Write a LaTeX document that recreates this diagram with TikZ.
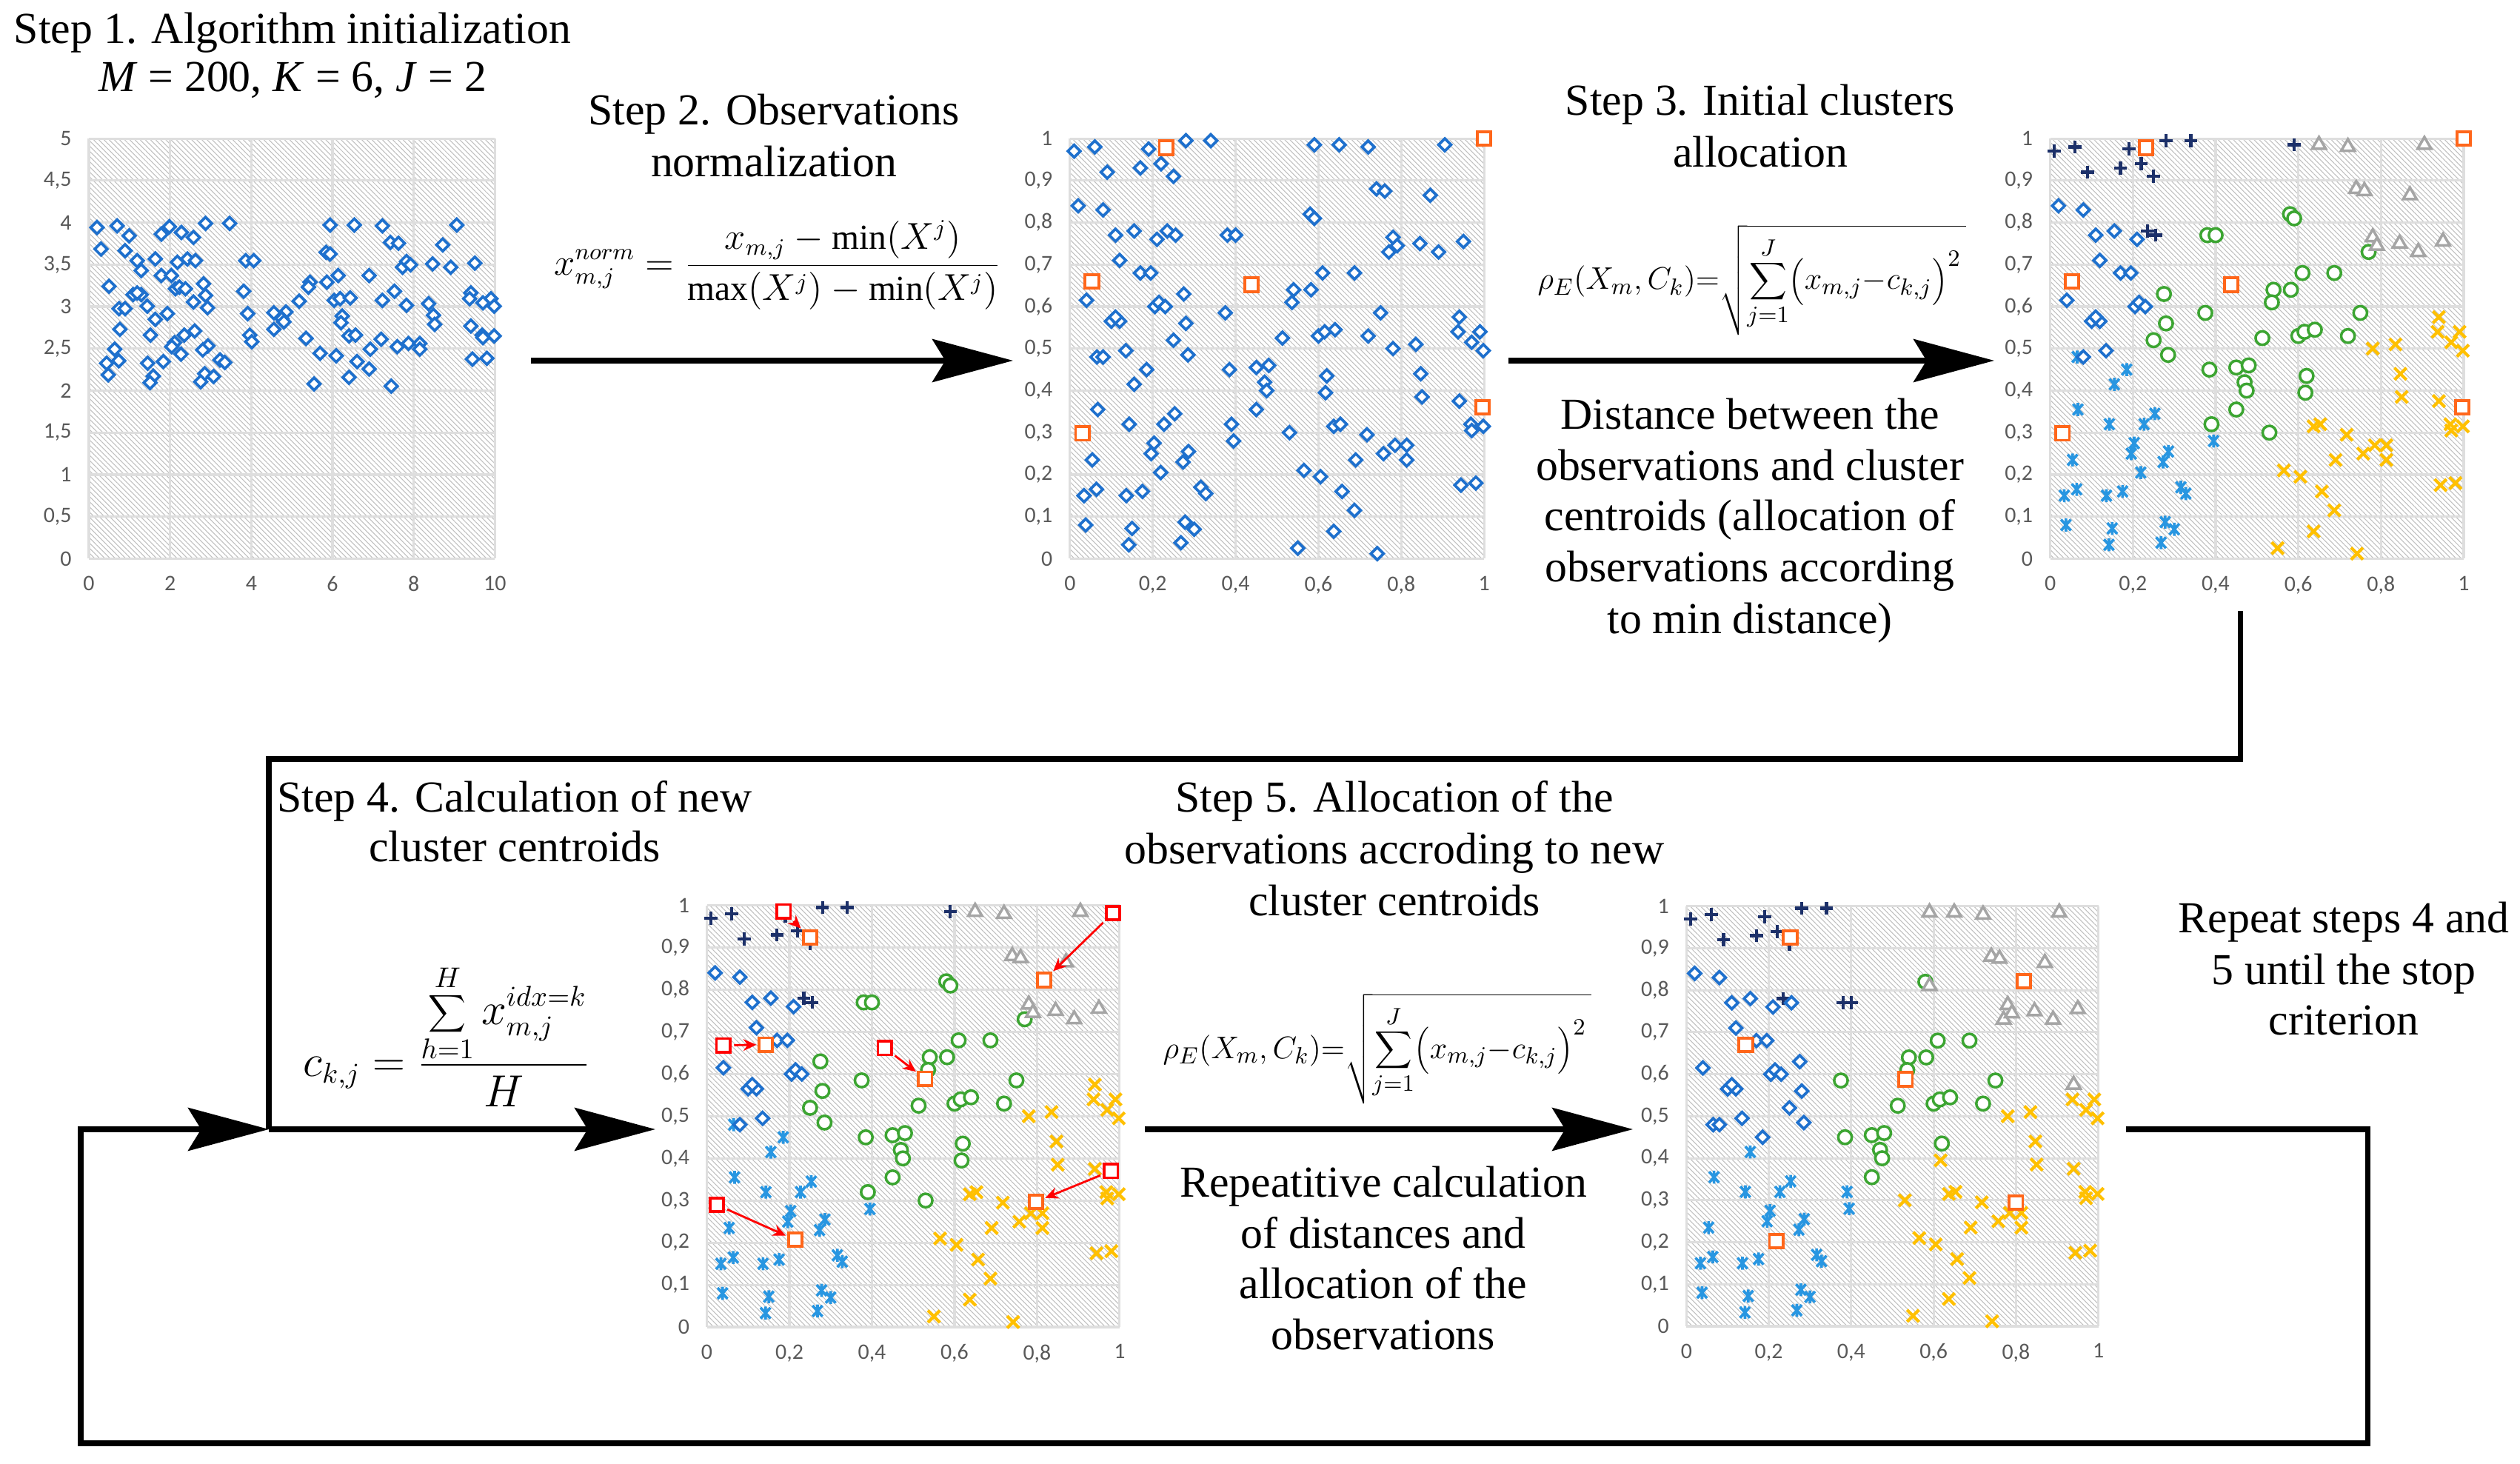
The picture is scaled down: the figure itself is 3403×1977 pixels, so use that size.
\documentclass[tikz,border=0pt]{standalone}
\usepackage{fontspec}
\setmainfont{Liberation Serif}
\newfontfamily\tickfont{Carlito}
\usetikzlibrary{arrows.meta,patterns.meta}
\definecolor{cdia}{RGB}{30,112,205}
\definecolor{corg}{RGB}{255,102,26}
\definecolor{cnavy}{RGB}{28,48,105}
\definecolor{cgray}{RGB}{165,165,165}
\definecolor{cgreen}{RGB}{60,165,50}
\definecolor{cstar}{RGB}{40,150,225}
\definecolor{cyel}{RGB}{255,192,0}
\definecolor{tickgray}{RGB}{89,89,89}
\newcommand\ptlist{%
0.01/0.97/1/1,0.06/0.98/1/1,0.09/0.92/1/1,0.17/0.93/1/1,0.19/0.975/1/1,0.22/0.94/1/1,0.25/0.91/1/1,0.28/0.995/1/1,0.34/0.995/1/1,0.59/0.985/1/2,%
0.65/0.985/2/2,0.72/0.98/2/2,0.905/0.985/2/2,%
0.02/0.84/3/3,0.08/0.83/3/3,0.11/0.77/3/3,0.155/0.78/3/3,0.21/0.76/3/3,%
0.235/0.78/1/1,0.255/0.77/1/3,%
0.38/0.77/4/1,0.40/0.77/4/1,0.58/0.82/4/4,0.59/0.81/4/2,%
0.74/0.88/2/2,0.76/0.875/2/2,0.87/0.865/2/2,0.77/0.73/4/2,0.78/0.765/2/2,0.79/0.745/2/2,0.845/0.75/2/2,0.89/0.73/2/2,0.95/0.755/2/2,%
0.12/0.71/3/3,0.17/0.68/3/3,0.195/0.68/3/3,0.04/0.615/3/3,0.205/0.60/3/3,0.215/0.61/3/3,0.23/0.60/3/3,%
0.275/0.63/4/3,0.10/0.565/3/3,0.12/0.565/3/3,0.11/0.575/3/3,0.28/0.56/4/3,0.25/0.52/4/3,0.135/0.495/3/3,0.065/0.48/5/3,0.08/0.48/3/3,0.285/0.485/4/3,0.185/0.45/5/3,0.155/0.415/5/5,%
0.375/0.585/4/4,0.385/0.45/4/4,0.45/0.455/4/4,0.48/0.46/4/4,0.47/0.42/4/4,0.475/0.40/4/4,0.45/0.355/4/4,0.39/0.32/4/5,0.395/0.28/5/5,0.53/0.30/4/6,%
0.513/0.525/4/4,0.54/0.64/4/4,0.536/0.61/4/4,0.582/0.64/4/4,0.61/0.68/4/4,0.687/0.68/4/4,0.60/0.53/4/4,0.615/0.54/4/4,0.64/0.545/4/4,0.72/0.53/4/4,0.75/0.585/4/4,0.62/0.435/4/4,0.617/0.395/4/6,%
0.78/0.50/6/6,0.835/0.51/6/6,0.847/0.44/6/6,0.85/0.385/6/6,0.94/0.375/6/6,0.94/0.575/6/2,0.937/0.54/6/6,0.99/0.54/6/6,0.97/0.515/6/6,0.998/0.495/6/6,%
0.637/0.315/6/6,0.653/0.32/6/6,0.717/0.295/6/6,0.757/0.25/6/6,0.785/0.27/6/6,0.813/0.27/6/6,0.813/0.235/6/6,0.69/0.235/6/6,0.565/0.21/6/6,0.605/0.195/6/6,0.657/0.16/6/6,0.687/0.115/6/6,0.637/0.065/6/6,0.55/0.025/6/6,0.742/0.012/6/6,0.968/0.32/6/6,0.97/0.305/6/6,0.998/0.315/6/6,0.944/0.175/6/6,0.98/0.18/6/6,%
0.067/0.355/5/5,0.143/0.32/5/5,0.227/0.32/5/5,0.253/0.345/5/5,0.203/0.275/5/5,0.196/0.25/5/5,0.286/0.255/5/5,0.273/0.23/5/5,0.219/0.205/5/5,0.054/0.235/5/5,0.034/0.15/5/5,0.064/0.165/5/5,0.136/0.15/5/5,0.175/0.16/5/5,0.316/0.17/5/5,0.328/0.155/5/5,0.038/0.08/5/5,0.15/0.072/5/5,0.142/0.033/5/5,0.278/0.087/5/5,0.30/0.07/5/5,0.268/0.038/5/5}
\newcommand\drawmk[3]{\ifcase#1\or\pic at (#2,#3) {mplus};\or\pic at (#2,#3) {mtri};\or\pic at (#2,#3) {mdia};\or\pic at (#2,#3) {mcirc};\or\pic at (#2,#3) {mstar};\or\pic at (#2,#3) {mx};\fi}
\newcommand\normgrid[1]{%
  \fill[hatch] (0,0) rectangle (1,1);
  \foreach \i in {0,...,10} {\draw[gridl] (0,\i/10) -- (1,\i/10);}
  \foreach \i in {0,...,5} {\draw[gridl] (\i/5,0) -- (\i/5,1);}
  \node[ylab] (#1y0) at (0,0) {0};
  \foreach \i in {1,...,9} {\node[ylab] (#1y\i) at (0,\i/10) {0,\i};}
  \node[ylab] (#1y10) at (0,1) {1};
  \node[xlab] (#1x0) at (0,0) {0};
  \foreach \i in {2,4,6,8} {\node[xlab] (#1x\i) at (\i/10,0) {0,\i};}
  \node[xlab] (#1x10) at (1,0) {1};
}
\newcommand\rhoformula{$\displaystyle \rho_E\bigl(X_m,C_k\bigr){=}\sqrt{\sum_{j=1}^{J}\Bigl(x_{m,j}{-}c_{k,j}\Bigr)^{2}\,}$}
\begin{document}
\begin{tikzpicture}[x=0.01cm,y=-0.01cm,
  txt/.style={font=\fontsize{17}{19.6}\selectfont, inner sep=0, anchor=base},
  fml/.style={font=\fontsize{13.5}{16}\selectfont, inner sep=0},
  rfml/.style={font=\fontsize{13.2}{16}\selectfont, inner sep=0, anchor=base},
  bigarrow/.style={line width=2pt, -{Stealth[length=31pt,width=16.5pt,inset=5pt]}},
  loopline/.style={line width=2pt},
  redarrow/.style={red, line width=0.8pt, -{Stealth[length=5pt,width=4.5pt]}, shorten <=1pt, shorten >=0.5pt},
  gridl/.style={black!13, line width=0.9pt},
  hatch/.style={pattern={Lines[angle=-45,distance=1.4pt,line width=0.3pt]}, pattern color=black!25},
  ylab/.style={anchor=east, inner sep=0, xshift=-6.5pt, font=\tickfont\fontsize{8.5}{10}\selectfont, text=tickgray},
  xlab/.style={anchor=north, inner sep=0, yshift=-6.5pt, font=\tickfont\fontsize{8.5}{10}\selectfont, text=tickgray},
  orsq/.style={draw=corg, fill=white, line width=1.1pt, minimum size=5.2pt, inner sep=0, shape=rectangle},
  redsq/.style={draw=red, fill=white, line width=1pt, minimum size=5.2pt, inner sep=0, shape=rectangle},
  mdia/.pic={\draw[cdia, line width=1.05pt, fill=white] (0pt,2.4pt)--(2.4pt,0pt)--(0pt,-2.4pt)--(-2.4pt,0pt)--cycle;},
  mplus/.pic={\draw[cnavy, line width=1.2pt] (-2.5pt,0pt)--(2.5pt,0pt) (0pt,-2.5pt)--(0pt,2.5pt);},
  mtri/.pic={\draw[cgray, line width=1pt, fill=white] (90:3pt)--(210:3pt)--(330:3pt)--cycle;},
  mcirc/.pic={\draw[cgreen, line width=1pt, fill=white] (0pt,0pt) circle[radius=2.6pt];},
  mstar/.pic={\draw[cstar, line width=1.05pt] (-1.9pt,-2.1pt)--(1.9pt,2.1pt) (-1.9pt,2.1pt)--(1.9pt,-2.1pt) (0pt,-2.5pt)--(0pt,2.5pt);},
  mx/.pic={\draw[cyel, line width=1.2pt] (-2.3pt,-2.3pt)--(2.3pt,2.3pt) (-2.3pt,2.3pt)--(2.3pt,-2.3pt);}
]
\useasboundingbox (0,0) rectangle (3403,1977);

% ---------- Plot 1 ----------
\begin{scope}[shift={(1.20cm,-7.54cm)}, x=5.48cm, y=5.67cm]
  \fill[hatch] (0,0) rectangle (1,1);
  \foreach \i in {0,...,10} {\draw[gridl] (0,\i/10) -- (1,\i/10);}
  \foreach \i in {0,...,5} {\draw[gridl] (\i/5,0) -- (\i/5,1);}
  \foreach \i/\l in {0/0,1/{0,5},2/1,3/{1,5},4/2,5/{2,5},6/3,7/{3,5},8/4,9/{4,5},10/5} {\node[ylab] (p1y\i) at (0,\i/10) {\l};}
  \foreach \i in {0,2,...,10} {\node[xlab] (p1x\i) at (\i/10,0) {\i};}
  \foreach \x/\y/\a/\b in \ptlist {\pic at ({0.01+0.99*\x},{0.406+0.394*\y}) {mdia};}
\end{scope}

% ---------- Plot 2 ----------
\begin{scope}[shift={(14.44cm,-7.54cm)}, x=5.59cm, y=5.67cm]
  \normgrid{p2}
  \foreach \x/\y/\a/\b in \ptlist {\pic at (\x,\y) {mdia};}
  \foreach \x/\y [count=\n] in {0.232/0.978,1/1,0.053/0.66,0.438/0.652,0.03/0.298,0.996/0.36} {\node[orsq] (p2c\n) at (\x,\y) {};}
\end{scope}

% ---------- Plot 3 ----------
\begin{scope}[shift={(27.67cm,-7.54cm)}, x=5.58cm, y=5.67cm]
  \normgrid{p3}
  \foreach \x/\y/\a/\b in \ptlist {\drawmk{\a}{\x}{\y}}
  \foreach \x/\y [count=\n] in {0.232/0.978,1/1,0.053/0.66,0.438/0.652,0.03/0.298,0.996/0.36} {\node[orsq] (p3c\n) at (\x,\y) {};}
\end{scope}

% ---------- Plot 4 ----------
\begin{scope}[shift={(9.54cm,-17.91cm)}, x=5.57cm, y=5.69cm]
  \normgrid{p4}
  \foreach \x/\y/\a/\b in \ptlist {\drawmk{\a}{\x}{\y}}
  \foreach \x/\y [count=\n] in {0.186/0.986,0.984/0.982,0.04/0.668,0.431/0.662,0.024/0.29,0.979/0.37} {\node[redsq] (p4o\n) at (\x,\y) {};}
  \foreach \x/\y [count=\n] in {0.25/0.924,0.817/0.823,0.143/0.67,0.529/0.589,0.214/0.207,0.797/0.297} {\node[orsq] (p4n\n) at (\x,\y) {};}
  \foreach \n in {1,...,6} {\draw[redarrow] (p4o\n) -- (p4n\n);}
\end{scope}

% ---------- Plot 5 ----------
\begin{scope}[shift={(22.76cm,-17.90cm)}, x=5.56cm, y=5.67cm]
  \normgrid{p5}
  \foreach \x/\y/\a/\b in \ptlist {\drawmk{\b}{\x}{\y}}
  \foreach \x/\y [count=\n] in {0.252/0.925,0.819/0.821,0.144/0.67,0.532/0.588,0.218/0.203,0.80/0.294} {\node[orsq] (p5c\n) at (\x,\y) {};}
\end{scope}

% ---------- Texts ----------
\node[txt] (s1a) at (395,59) {Step 1. Algorithm initialization};
\node[txt] (s1b) at (395,124) {\textit{M} = 200, \textit{K} = 6, \textit{J} = 2};
\node[txt] (s2a) at (1045,169) {Step 2. Observations};
\node[txt] (s2b) at (1045,239) {normalization};
\node[fml] (f2) at (1050,358) {$\displaystyle x_{m,j}^{norm}=\frac{x_{m,j}-\min(X^{j})}{\max(X^{j})-\min(X^{j})}$};
\node[txt] (s3a) at (2377,156) {Step 3. Initial clusters};
\node[txt] (s3b) at (2377,226) {allocation};
\node[rfml] (f3) at (2366,391) {\rhoformula};
\node[txt] (d1) at (2363,580) {Distance between the};
\node[txt] (d2) at (2363,649) {observations and cluster};
\node[txt] (d3) at (2363,717) {centroids (allocation of};
\node[txt] (d4) at (2363,786) {observations according};
\node[txt] (d5) at (2363,856) {to min distance)};
\node[txt] (s4a) at (695,1097) {Step 4. Calculation of new};
\node[txt] (s4b) at (695,1164) {cluster centroids};
\node[fml, anchor=base, font=\fontsize{16}{19}\selectfont] (f4) at (603,1453) {$\displaystyle c_{k,j}=\frac{\displaystyle\sum_{h=1}^{H}x_{m,j}^{idx=k}}{H}$};
\node[txt] (s5a) at (1883,1097) {Step 5. Allocation of the};
\node[txt] (s5b) at (1883,1166) {observations accroding to new};
\node[txt] (s5c) at (1883,1236) {cluster centroids};
\node[rfml] (f5) at (1860,1429) {\rhoformula};
\node[txt] (r1) at (1868,1616) {Repeatitive calculation};
\node[txt] (r2) at (1868,1685) {of distances and};
\node[txt] (r3) at (1868,1753) {allocation of the};
\node[txt] (r4) at (1868,1822) {observations};
\node[txt] (t1) at (3165,1260) {Repeat steps 4 and};
\node[txt] (t2) at (3165,1329) {5 until the stop};
\node[txt] (t3) at (3165,1397) {criterion};

% ---------- Connectors ----------
\coordinate (a1s) at (717,487);
\coordinate (a1e) at (1368,487);
\coordinate (a2s) at (2037,487);
\coordinate (a2e) at (2693,487);
\coordinate (c3a) at (3025,825);
\coordinate (c3b) at (3025,1025);
\coordinate (c3c) at (363,1025);
\coordinate (j4) at (363,1525);
\coordinate (a4e) at (885,1525);
\coordinate (a5s) at (1546,1525);
\coordinate (a5e) at (2205,1525);
\coordinate (l1) at (2871,1525);
\coordinate (l2) at (3197,1525);
\coordinate (l3) at (3197,1949);
\coordinate (l4) at (109,1949);
\coordinate (l5) at (109,1525);
\draw[bigarrow] (a1s) -- (a1e);
\draw[bigarrow] (a2s) -- (a2e);
\draw[loopline] (c3a) -- (c3b) -- (c3c) -- (j4);
\draw[bigarrow] (j4) -- (a4e);
\draw[bigarrow] (a5s) -- (a5e);
\draw[bigarrow] (l1) -- (l2) -- (l3) -- (l4) -- (l5) -- (j4);
\end{tikzpicture}
\end{document}
